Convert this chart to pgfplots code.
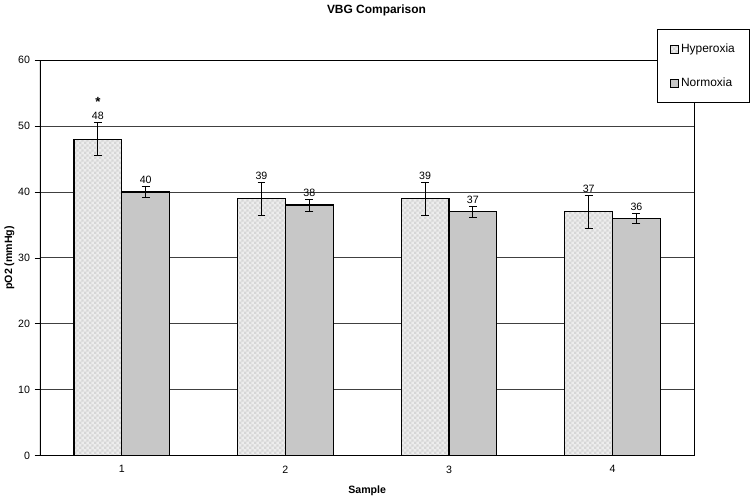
\documentclass[border=0pt]{standalone}
\usepackage{pgfplots}
\pgfplotsset{compat=1.18}
\usepackage{fontspec}
\setmainfont{Liberation Sans}
\usetikzlibrary{patterns}
\pgfdeclarepatternformonly{finechecker}{\pgfpointorigin}{\pgfqpoint{4pt}{4pt}}{\pgfqpoint{4pt}{4pt}}{%
 \pgfpathrectangle{\pgfpointorigin}{\pgfqpoint{2pt}{2pt}}%
 \pgfpathrectangle{\pgfqpoint{2pt}{2pt}}{\pgfqpoint{2pt}{2pt}}%
 \pgfusepath{fill}}
\pgfplotsset{errs/.style={error bars/y dir=both,error bars/y explicit,
 error bars/error bar style={black,line width=0.7pt},
 error bars/error mark options={black,mark size=3pt,rotate=90,line width=0.7pt}}}
\begin{document}
\begin{tikzpicture}
\begin{axis}[ybar=0pt,bar width=36pt,scale only axis,width=493pt,height=298pt,
 xmin=0.5,xmax=4.5,ymin=0,ymax=60,ytick={0,10,...,60},
 xtick={1,2,3,4},major x tick style={draw=none},xtick pos=bottom,ytick pos=left,
 extra x ticks={1.5,2.5,3.5},extra x tick labels={},
 extra x tick style={major tick length=4pt,tick align=outside,tick style={draw=black,thin},grid=none},
 ymajorgrids,grid style={black!75,line width=0.6pt},
 axis line style={black,line width=0.6pt},
 y tick style={black,thin},tick align=outside,major tick length=4pt,
 tick label style={font=\footnotesize},
 /pgf/number format/assume math mode=true,
 title={\bfseries VBG Comparison},title style={font=\small,yshift=24pt,xshift=7pt},
 xlabel={\bfseries Sample},xlabel style={font=\footnotesize,yshift=5pt},
 ylabel={\bfseries pO2 (mmHg)},ylabel style={font=\footnotesize,yshift=-4pt},
 legend style={at={(rel axis cs:1.085,1.078)},anchor=north east,draw=black,line width=0.8pt,
  font=\small,row sep=13pt,inner xsep=9pt,inner ysep=9pt,cells={anchor=west}},
 legend image code/.code={\draw[#1,line width=0.5pt] (0pt,-3pt) rectangle (6pt,3pt);},
 nodes near coords,every node near coord/.append style={font=\footnotesize,yshift=\myerr*4.965pt,inner sep=1.5pt},
 visualization depends on={\thisrow{ey} \as \myerr}]
\addplot[draw=black,line width=1pt,fill=black!7,postaction={pattern=finechecker,pattern color=black!16},errs]
 table[x=x,y=y,y error=ey] {
x y ey
1 48 2.5
2 39 2.5
3 39 2.5
4 37 2.5
};
\addplot[draw=black,line width=1pt,fill=black!22,errs]
 table[x=x,y=y,y error=ey] {
x y ey
1 40 0.8
2 38 0.9
3 37 0.85
4 36 0.8
};
\legend{Hyperoxia,Normoxia}
\node[font=\normalsize\bfseries] at (axis cs:1,53.6) [xshift=-18pt] {*};
\draw[black,line width=1.3pt] (rel axis cs:0,0) -- (rel axis cs:0,1);
\draw[black,line width=1.6pt] (rel axis cs:0,0) -- (rel axis cs:1,0);
\end{axis}
\end{tikzpicture}
\end{document}
